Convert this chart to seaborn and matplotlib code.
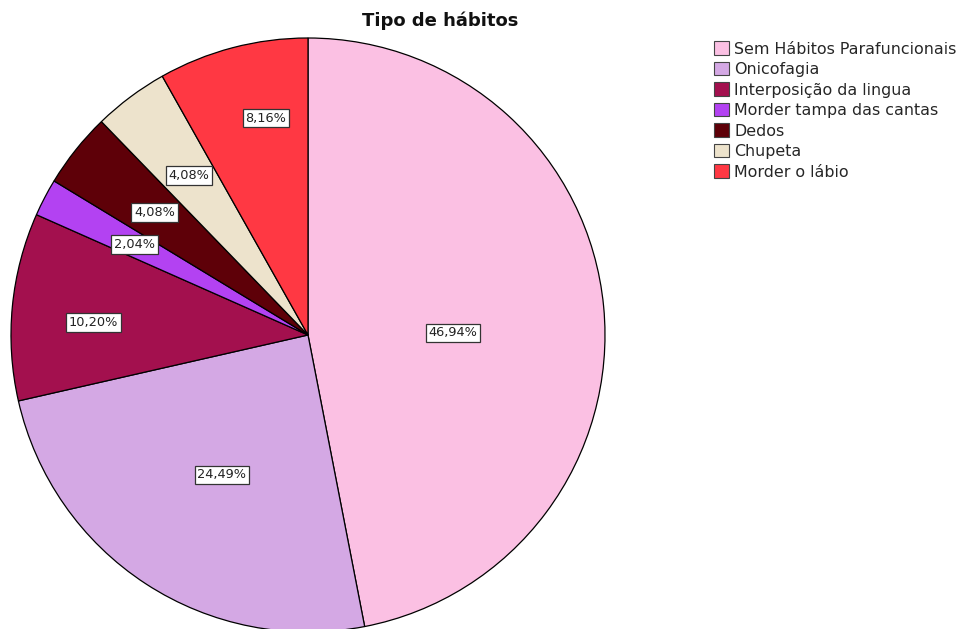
import numpy as np
import matplotlib
matplotlib.use("Agg")
import matplotlib.pyplot as plt
import seaborn as sns

categories = ["Sem Hábitos Parafuncionais", "Onicofagia", "Interposição da lingua",
              "Morder tampa das cantas", "Dedos", "Chupeta", "Morder o lábio"]
values = [46.94, 24.49, 10.20, 2.04, 4.08, 4.08, 8.16]
labels = ["46,94%", "24,49%", "10,20%", "2,04%", "4,08%", "4,08%", "8,16%"]
colors = ["#FBC0E3", "#D4A8E4", "#A3104E", "#B342F2", "#5E0008", "#EDE3CC", "#FF3843"]
label_dist = [0.488, 0.553, 0.725, 0.66, 0.66, 0.67, 0.744]
label_shift = [-4.7, 1.5, 2.2, 0.0, 0.0, 0.0, -3.7]

sns.set_theme(style="white")
plt.rcParams['font.family'] = ['DejaVu Sans']

fig = plt.figure(figsize=(9.62, 6.29), dpi=100)
ax = fig.add_axes([11/962, -3/629, 594/962, 594/629])

wedges, _ = ax.pie(values, colors=colors, startangle=90, counterclock=False,
                   wedgeprops=dict(edgecolor="black", linewidth=0.9))
ax.set_xlim(-1, 1)
ax.set_ylim(-1, 1)
ax.set_aspect("equal")
ax.axis("off")

for w, lab, d, s in zip(wedges, labels, label_dist, label_shift):
    ang = np.deg2rad((w.theta1 + w.theta2) / 2 + s)
    ax.text(d * np.cos(ang), d * np.sin(ang), lab, ha="center", va="center",
            fontsize=9.3, color="#222222",
            bbox=dict(boxstyle="square,pad=0.22", facecolor="white",
                      edgecolor="#333333", linewidth=0.9))

fig.text(440/962, 1 - 21/629, "Tipo de hábitos", ha="center", va="center",
         fontsize=13, fontweight="bold", color="#111111")

leg = fig.legend(wedges, categories, loc="upper left",
                 bbox_to_anchor=(708/962, 1 - 35/629), frameon=False,
                 fontsize=11.4, handlelength=0.95, handleheight=0.95,
                 handletextpad=0.3, labelspacing=0.33, borderaxespad=0)
for h in leg.legend_handles:
    h.set_edgecolor("#444444")
    h.set_linewidth(0.8)

fig.savefig("out.png", dpi=100)
